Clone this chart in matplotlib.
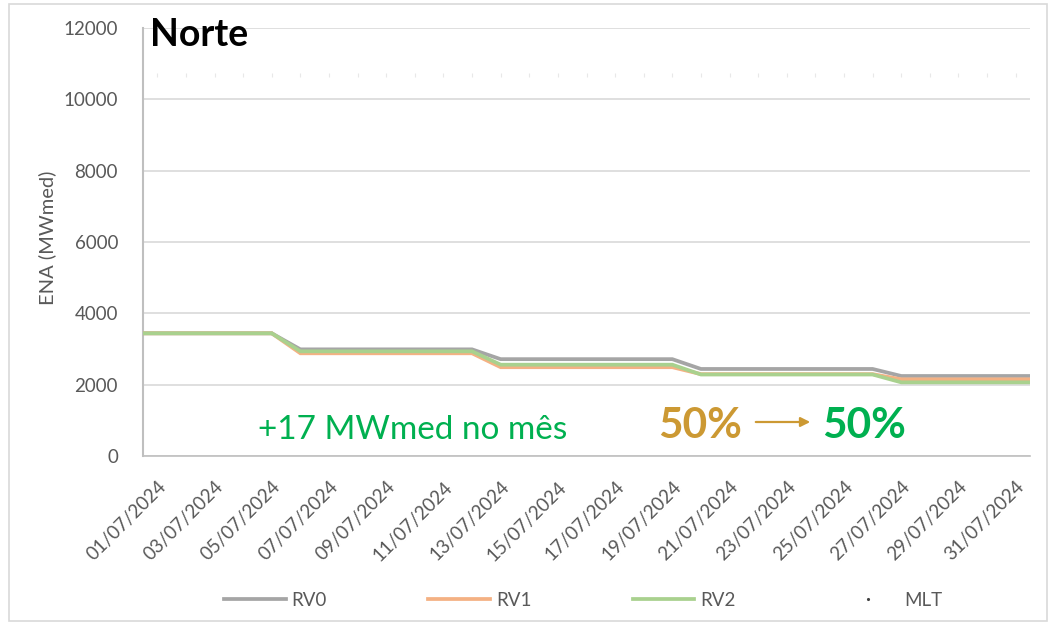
import numpy as np
import matplotlib
matplotlib.use("Agg")
import matplotlib.pyplot as plt
from matplotlib.lines import Line2D
from matplotlib.patches import Rectangle, FancyArrowPatch

plt.rcParams['font.family'] = ['Lato', 'DejaVu Sans']

# ---------------- data ----------------
dates = [f"{d:02d}/07/2024" for d in range(1, 32)]
rv0 = [3440]*5 + [2990]*7 + [2715]*7 + [2440]*7 + [2243]*5
rv1 = [3440]*5 + [2880]*7 + [2490]*7 + [2295]*7 + [2150]*5
rv2 = [3440]*5 + [2935]*7 + [2560]*7 + [2285]*7 + [2065]*5
mlt = [10680]*31

series_names = ["RV0", "RV1", "RV2", "MLT"]
series_colors = ["#a5a5a5", "#f4b183", "#a9d18e", "#e8e8e8"]
y_ticks = [0, 2000, 4000, 6000, 8000, 10000, 12000]

title = "Norte"
ylabel = "ENA (MWmed)"
note_text = "+17 MWmed no mês"
pct_before = "50%"
pct_after = "50%"

# ---------------- figure ----------------
fig = plt.figure(figsize=(10.51, 6.26), dpi=100)
ax = fig.add_axes([143/1051, 1-456/626, 887/1051, 428/626])

fig.patches.append(Rectangle((9/1051, 5/626), 1038/1051, 617/626,
                             transform=fig.transFigure, fill=False,
                             edgecolor="#d9d9d9", linewidth=1.2))

x = np.arange(len(dates))
xe = np.r_[x[0] - 0.5, x, x[-1] + 0.5]

def ext(v):
    v = np.asarray(v, dtype=float)
    return np.r_[v[0], v, v[-1]]

lines = []
for vals, name, col in zip([rv0, rv1, rv2], series_names[:3], series_colors[:3]):
    l, = ax.plot(xe, ext(vals), color=col, linewidth=2.7, label=name,
                 solid_joinstyle='miter', zorder=3)
    lines.append(l)

ax.plot(x, mlt, linestyle='none', marker='|', markersize=3,
        color=series_colors[3], markeredgewidth=0.8, zorder=2)

ax.set_xlim(-0.5, len(dates) - 0.5)
ax.set_ylim(0, 12000)
ax.set_yticks(y_ticks)
ax.set_yticklabels([str(v) for v in y_ticks])
ax.set_xticks(x[::2])
ax.set_xticklabels([dates[i] for i in x[::2]], rotation=45, ha='right',
                   va='top', rotation_mode='anchor')

ax.tick_params(axis='y', length=0, pad=18, labelsize=13.5, labelcolor='#595959')
ax.tick_params(axis='x', length=0, pad=16, labelsize=13.5, labelcolor='#595959')

ax.grid(axis='y', color='#d9d9d9', linewidth=1.2, zorder=0)
ax.set_axisbelow(True)
for s in ['top', 'right']:
    ax.spines[s].set_visible(False)
ax.spines['left'].set_color('#bfbfbf')
ax.spines['left'].set_linewidth(1.5)
ax.spines['bottom'].set_color('#bfbfbf')
ax.spines['bottom'].set_linewidth(1.2)

ax.set_ylabel(ylabel, fontsize=14.5, color='#595959')
ax.yaxis.set_label_coords(-0.098, 0.51)

# title inside plot
fig.text(150/1051, 1-35/626, title, fontsize=27, fontweight='bold',
         color='black', ha='left', va='center')

# annotations
fig.text(258/1051, 1-430/626, note_text, fontsize=24, color='#00b050',
         ha='left', va='center')
fig.text(742/1051, 1-426/626, pct_before, fontsize=30.5, fontweight='bold',
         color='#cc9933', ha='right', va='center')
fig.text(822/1051, 1-426/626, pct_after, fontsize=30.5, fontweight='bold',
         color='#00b050', ha='left', va='center')
arrow = FancyArrowPatch((753/1051, 1-422/626), (813/1051, 1-422/626),
                        transform=fig.transFigure, arrowstyle='-|>',
                        mutation_scale=14, color='#cc9933', linewidth=1.6)
fig.patches.append(arrow)

# legend
mlt_handle = Line2D([], [], linestyle='none', marker='.', markersize=2.5,
                    color='#404040')
leg = fig.legend(lines + [mlt_handle], series_names, loc='center',
                 bbox_to_anchor=(0.555, 1-600/626), ncol=4, frameon=False,
                 fontsize=13.5, handlelength=3.3, handletextpad=0.3,
                 columnspacing=5.4, labelcolor='#595959')

fig.savefig("out.png", dpi=100, facecolor='white')
